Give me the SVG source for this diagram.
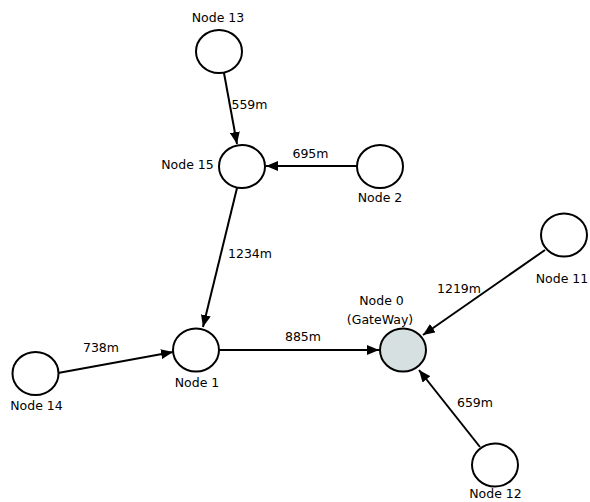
<svg xmlns="http://www.w3.org/2000/svg" width="590" height="502" viewBox="0 0 590 502">
<defs>
<marker id="arr" viewBox="0 0 12 10" refX="12" refY="5" markerWidth="12" markerHeight="10" markerUnits="userSpaceOnUse" orient="auto">
<path d="M0,0 L12,5 L0,10 Z" fill="#000"/>
</marker>
</defs>
<style>
.n{fill:#fff;stroke:#000;stroke-width:2}
.g{fill:#d7e0e0;stroke:#000;stroke-width:2}
.e{stroke:#000;stroke-width:2;fill:none;marker-end:url(#arr)}
text{font-family:"DejaVu Sans",sans-serif;font-size:12.5px;fill:#000;text-anchor:middle}
</style>
<rect width="590" height="502" fill="#fff"/>
<g id="connectors">
<line class="e" x1="224" y1="73" x2="237" y2="144"/>
<line class="e" x1="357" y1="166" x2="266" y2="166"/>
<line class="e" x1="237" y1="188" x2="203" y2="327"/>
<line class="e" x1="58" y1="373" x2="173" y2="352"/>
<line class="e" x1="219" y1="350" x2="379" y2="350"/>
<line class="e" x1="545" y1="250" x2="423" y2="335"/>
<line class="e" x1="480" y1="447" x2="419" y2="370"/>
<text x="249.5" y="109">559m</text>
<text x="310.5" y="158">695m</text>
<text x="250" y="258">1234m</text>
<text x="303" y="341">885m</text>
<text x="459" y="293">1219m</text>
<text x="101" y="352">738m</text>
<text x="475" y="407">659m</text>
</g>
<g id="node13"><ellipse class="n" cx="219" cy="51.5" rx="23" ry="21.5"/><text x="218" y="22">Node 13</text></g>
<g id="node15"><ellipse class="n" cx="242" cy="166.5" rx="23" ry="21.5"/><text x="187.5" y="169">Node 15</text></g>
<g id="node2"><ellipse class="n" cx="380" cy="166.5" rx="23" ry="21.5"/><text x="380" y="202">Node 2</text></g>
<g id="node11"><ellipse class="n" cx="564" cy="235" rx="23" ry="21.5"/><text x="562" y="283">Node 11</text></g>
<g id="node0"><ellipse class="g" cx="403" cy="350" rx="23" ry="21.5"/><text x="381.5" y="305">Node 0</text><text x="380" y="324">(GateWay)</text></g>
<g id="node14"><ellipse class="n" cx="35.5" cy="373.5" rx="23" ry="21.5"/><text x="36.5" y="410">Node 14</text></g>
<g id="node1"><ellipse class="n" cx="196" cy="350" rx="23" ry="21.5"/><text x="197" y="387">Node 1</text></g>
<g id="node12"><ellipse class="n" cx="495" cy="465" rx="23" ry="21.5"/><text x="495.5" y="498">Node 12</text></g>
</svg>
